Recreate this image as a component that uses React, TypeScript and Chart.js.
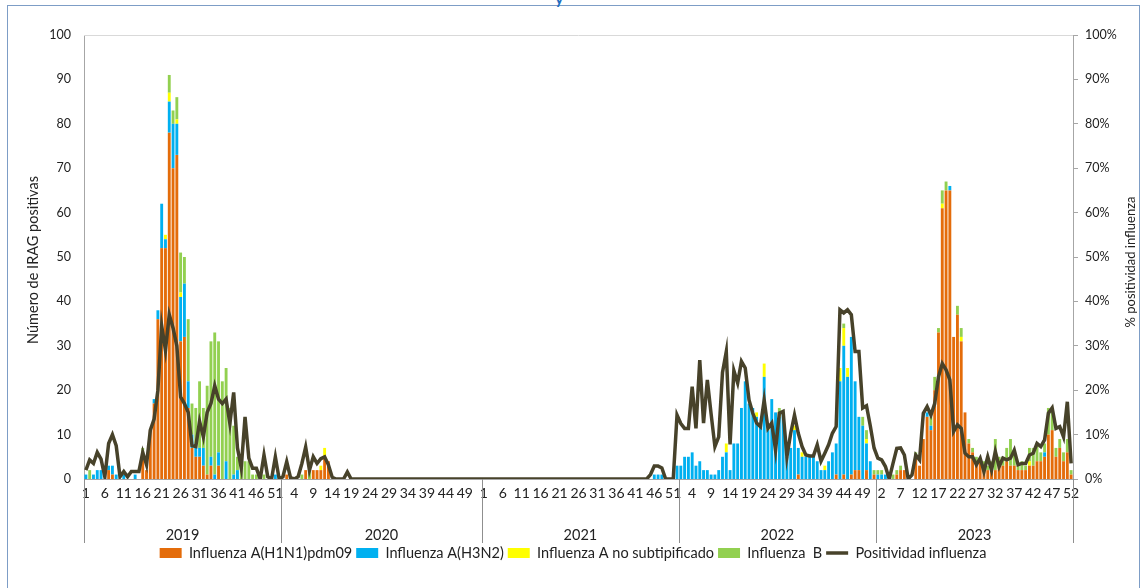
import { useEffect, useRef } from 'react';
import { Chart, registerables } from 'chart.js';

Chart.register(...registerables);

const FONT = "Lato, 'Open Sans', sans-serif";

const YEARS = ['2019', '2020', '2021', '2022', '2023'];
const WEEKS_PER_YEAR = [52, 53, 52, 52, 52];

const SERIES_NAMES = [
  'Influenza A(H1N1)pdm09',
  'Influenza A(H3N2)',
  'Influenza A no subtipificado',
  'Influenza  B',
  'Positividad influenza',
];

// Influenza A(H1N1)pdm09 per week
const H1N1_2019 = [0,0,0,0,0,0,2,1,0,0, 0,0,0,0,0,5,2,11,17,36, 52,52,78,70,73,31,32,16,7,5, 5,3,1,3,0,3,0,0,0,0, 0,0,0,0,0,0,0,0,0,0, 0,0];
const H1N1_2020 = [0,1,0,0,0,0,2,0,2,2, 2,5,4,0,0,0,0,0,0,0, 0,0,0,0,0,0,0,0,0,0, 0,0,0,0,0,0,0,0,0,0, 0,0,0,0,0,0,0,0,0,0, 0,0,0];
const H1N1_2021 = [0,0,0,0,0,0,0,0,0,0, 0,0,0,0,0,0,0,0,0,0, 0,0,0,0,0,0,0,0,0,0, 0,0,0,0,0,0,0,0,0,0, 0,0,0,0,0,0,0,0,0,0, 0,0];
const H1N1_2022 = [0,0,0,0,0,0,0,0,0,0, 0,0,0,0,0,0,0,0,0,0, 0,0,0,0,0,0,0,0,0,0, 0,1,0,0,0,0,0,0,0,0, 0,1,0,1,0,1,2,2,0,2, 0,1];
const H1N1_2023 = [0,0,0,0,0,1,2,2,0,0, 5,3,9,14,11,20,33,61,65,65, 32,37,31,15,8,6,4,4,3,2, 2,2,4,3,4,3,3,2,2,2, 3,3,4,4,5,10,11,5,7,4, 6,1];

// Influenza A(H3N2)
const H3N2_2019 = [1,0,1,2,2,0,1,2,1,0, 1,0,0,1,0,0,0,0,1,2, 10,2,7,10,7,10,12,6,3,3, 2,4,0,2,1,3,0,4,0,1, 2,0,0,0,0,0,1,0,0,0, 1,0];
const H3N2_2020 = [0,0,0,0,0,0,0,0,0,0, 0,0,0,0,0,0,0,0,0,0, 0,0,0,0,0,0,0,0,0,0, 0,0,0,0,0,0,0,0,0,0, 0,0,0,0,0,0,0,0,0,0, 0,0,0];
const H3N2_2021 = [0,0,0,0,0,0,0,0,0,0, 0,0,0,0,0,0,0,0,0,0, 0,0,0,0,0,0,0,0,0,0, 0,0,0,0,0,0,0,0,0,0, 0,0,0,0,0,1,1,1,0,0, 0,3];
const H3N2_2022 = [3,5,5,6,3,4,2,2,1,1, 2,5,6,2,8,8,16,22,17,16, 14,12,23,11,18,15,14,15,5,7, 11,6,5,5,5,5,4,2,2,4, 6,7,22,29,23,31,20,12,12,6, 4,0];
const H3N2_2023 = [1,1,1,0,0,0,0,0,0,0, 0,0,0,1,1,0,0,0,0,1, 0,0,0,0,0,0,0,0,0,0, 0,0,0,0,0,0,0,0,0,0, 0,0,0,0,1,0,0,0,0,0, 0,0];

// Influenza A no subtipificado
const ANS_2019 = [0,0,0,0,0,0,0,0,0,0, 0,0,0,0,0,0,0,0,0,0, 0,1,2,0,1,1,0,0,0,0, 0,0,0,0,0,0,0,0,0,0, 0,0,0,0,0,0,0,0,0,0, 0,0];
const ANS_2020 = [0,0,0,0,0,0,0,0,0,0, 1,2,0,0,0,0,0,0,0,0, 0,0,0,0,0,0,0,0,0,0, 0,0,0,0,0,0,0,0,0,0, 0,0,0,0,0,0,0,0,0,0, 0,0,0];
const ANS_2021 = [0,0,0,0,0,0,0,0,0,0, 0,0,0,0,0,0,0,0,0,0, 0,0,0,0,0,0,0,0,0,0, 0,0,0,0,0,0,0,0,0,0, 0,0,0,0,0,0,0,0,0,0, 0,0];
const ANS_2022 = [0,0,0,0,0,0,0,0,0,0, 0,0,2,0,0,0,0,0,0,0, 1,0,3,1,0,0,1,0,0,0, 1,0,1,0,0,0,0,0,1,0, 0,0,3,4,2,0,0,0,0,1, 0,0];
const ANS_2023 = [0,0,0,0,0,0,0,0,0,0, 0,0,0,0,0,0,0,1,0,0, 0,0,1,0,0,0,0,0,0,0, 0,0,0,0,0,0,0,0,0,0, 1,0,0,0,0,0,0,0,0,0, 0,0];

// Influenza B
const FLUB_2019 = [0,2,0,0,0,0,0,0,0,0, 0,0,0,0,0,2,0,0,0,0, 0,0,4,3,5,9,6,14,7,8, 15,9,20,26,32,25,22,21,16,11, 3,3,4,4,1,1,0,1,0,0, 0,0];
const FLUB_2020 = [0,0,0,0,0,1,0,2,0,0, 0,0,0,0,0,0,0,0,0,0, 0,0,0,0,0,0,0,0,0,0, 0,0,0,0,0,0,0,0,0,0, 0,0,0,0,0,0,0,0,0,0, 0,0,0];
const FLUB_2021 = [0,0,0,0,0,0,0,0,0,0, 0,0,0,0,0,0,0,0,0,0, 0,0,0,0,0,0,0,0,0,0, 0,0,0,0,0,0,0,0,0,0, 0,0,0,0,0,0,0,0,0,0, 0,0];
const FLUB_2022 = [0,0,0,0,0,0,0,0,0,0, 0,0,0,0,0,0,0,0,0,0, 0,0,0,0,0,0,1,0,0,0, 0,0,0,0,0,0,0,0,0,0, 0,0,0,1,0,0,0,0,2,2, 0,1];
const FLUB_2023 = [1,1,0,0,1,1,1,0,0,0, 1,0,0,0,2,3,1,3,2,0, 0,2,2,0,1,1,1,0,1,1, 2,7,1,2,3,6,3,1,2,1, 3,4,4,2,2,6,5,2,2,2, 3,1];

// Positividad influenza (%)
const POS_2019 = [2,4.3,3.5,6,4.5,0.5,8,10,7.5,0.5, 1.7,0.5,1.7,1.7,1.7,6,3.2,11,13.5,20, 34.5,29,37,34,30,18.5,17,15,7.5,7.3, 13,9.5,15,17,21,18,17,18,12.5,19.5, 7,2.5,14,4.7,2.4,2.4,0,5.4,0.5,0, 5,0];
const POS_2020 = [0.5,3.9,0.3,0,0.5,3.5,7.2,2,5,3.5, 4.6,5,3.2,0.4,0,0,0,1.6,0,0, 0,0,0,0,0,0,0,0,0,0, 0,0,0,0,0,0,0,0,0,0, 0,0,0,0,0,0,0,0,0,0, 0,0,0];
const POS_2021 = [0,0,0,0,0,0,0,0,0,0, 0,0,0,0,0,0,0,0,0,0, 0,0,0,0,0,0,0,0,0,0, 0,0,0,0,0,0,0,0,0,0, 0,0,0,0,1,2.9,2.9,2.5,0,0, 0,14.4];
const POS_2022 = [12.5,11.4,11.4,20.8,11.4,26.8,12.6,22.3,14.6,7.3, 9.5,24,28.7,7.8,24.4,21.6,26.5,25,17.8,14.8, 12.6,11.8,17.8,11.4,12.6,6.5,14.8,15.2,5,10.3, 14.4,10.3,7.3,5.4,5.2,5.2,7.7,4,5.8,7.7, 10.3,11.8,38.1,37.4,38.1,37,28.7,28.7,16,16.5, 12,7];
const POS_2023 = [4.7,4.3,2.8,0,3.5,6.9,7,5.4,0,0.9, 5.4,4.3,14.8,16.3,14.4,17,23,26,24.6,22.3, 10.7,12.2,11.4,5.8,5,5,3.2,4.7,1.7,5, 2,6.2,2.8,4.7,4.3,4.7,6.5,3.2,3.5,3.5, 5.4,5.8,8,7.3,8.8,14.8,16,11.4,11.8,9.5, 17.4,3.5];

const H1N1 = [...H1N1_2019, ...H1N1_2020, ...H1N1_2021, ...H1N1_2022, ...H1N1_2023];
const H3N2 = [...H3N2_2019, ...H3N2_2020, ...H3N2_2021, ...H3N2_2022, ...H3N2_2023];
const ANS = [...ANS_2019, ...ANS_2020, ...ANS_2021, ...ANS_2022, ...ANS_2023];
const FLUB = [...FLUB_2019, ...FLUB_2020, ...FLUB_2021, ...FLUB_2022, ...FLUB_2023];
const POS = [...POS_2019, ...POS_2020, ...POS_2021, ...POS_2022, ...POS_2023];

// category labels: week numbers for each year
const CATEGORIES: string[] = [];
YEARS.forEach((_, yi) => {
  for (let w = 1; w <= WEEKS_PER_YEAR[yi]; w++) CATEGORIES.push(String(w));
});

const LABEL_EVERY = 5;
const AXIS_TICKS = [0, 10, 20, 30, 40, 50, 60, 70, 80, 90, 100];

const COLORS = ['#E46C0A', '#00B0F0', '#FFFF00', '#92D050', '#47422A'];

const decoPlugin = {
  id: 'deco',
  afterDraw(chart: any) {
    const { ctx, chartArea } = chart;
    const { left, right, top, bottom } = chartArea;
    const xs = chart.scales.x;
    const n = CATEGORIES.length;
    ctx.save();
    // plot area top border
    ctx.strokeStyle = '#d9d9d9';
    ctx.lineWidth = 1;
    ctx.beginPath();
    ctx.moveTo(left, Math.round(top) + 0.5);
    ctx.lineTo(right, Math.round(top) + 0.5);
    ctx.stroke();

    const edge = (i: number) => {
      if (i <= 0) return left;
      if (i >= n) return right;
      return (xs.getPixelForValue(i - 1) + xs.getPixelForValue(i)) / 2;
    };
    // year separators + year labels
    ctx.strokeStyle = '#8f8f8f';
    ctx.fillStyle = '#222';
    ctx.font = `14.5px ${FONT}`;
    ctx.textAlign = 'center';
    ctx.textBaseline = 'middle';
    let start = 0;
    const bounds: number[] = [0];
    WEEKS_PER_YEAR.forEach((w) => { start += w; bounds.push(start); });
    bounds.forEach((b) => {
      const px = Math.round(edge(b)) + 0.5;
      ctx.beginPath();
      ctx.moveTo(px, bottom);
      ctx.lineTo(px, bottom + 64);
      ctx.stroke();
    });
    YEARS.forEach((y, yi) => {
      const cx = (edge(bounds[yi]) + edge(bounds[yi + 1])) / 2;
      ctx.fillText(y, cx, bottom + 56);
    });

    // axis titles
    const midY = (top + bottom) / 2;
    ctx.save();
    ctx.font = `14.5px ${FONT}`;
    ctx.translate(33, midY + 3);
    ctx.rotate(-Math.PI / 2);
    ctx.fillText('Número de IRAG positivas', 0, 0);
    ctx.restore();
    ctx.save();
    ctx.font = `13px ${FONT}`;
    ctx.translate(1131, midY + 5);
    ctx.rotate(-Math.PI / 2);
    ctx.fillText('% positividad influenza', 0, 0);
    ctx.restore();
    ctx.restore();
  },
};

export default function App() {
  const ref = useRef<HTMLCanvasElement | null>(null);

  useEffect(() => {
    if (!ref.current) return;
    const barBase = {
      type: 'bar' as const,
      stack: 'flu',
      yAxisID: 'y',
      categoryPercentage: 1,
      barPercentage: 0.76,
      borderWidth: 0,
      pointStyle: 'rect',
      order: 0,
    };
    const chart = new Chart(ref.current, {
      type: 'bar',
      data: {
        labels: CATEGORIES,
        datasets: [
          { ...barBase, label: SERIES_NAMES[0], data: H1N1, backgroundColor: COLORS[0] },
          { ...barBase, label: SERIES_NAMES[1], data: H3N2, backgroundColor: COLORS[1] },
          { ...barBase, label: SERIES_NAMES[2], data: ANS, backgroundColor: COLORS[2] },
          { ...barBase, label: SERIES_NAMES[3], data: FLUB, backgroundColor: COLORS[3] },
          {
            type: 'line' as const,
            label: SERIES_NAMES[4],
            data: POS,
            yAxisID: 'y1',
            borderColor: COLORS[4],
            backgroundColor: COLORS[4],
            borderWidth: 3.5,
            pointRadius: 0,
            pointStyle: 'line',
            tension: 0,
            order: -1,
          } as any,
        ],
      },
      options: {
        animation: false,
        responsive: false,
        maintainAspectRatio: false,
        layout: { padding: { top: 35, bottom: 17.75, left: 0, right: 0 } },
        plugins: {
          legend: {
            position: 'bottom',
            labels: {
              usePointStyle: true,
              pointStyleWidth: 22,
              boxHeight: 10,
              padding: 4,
              color: '#222',
              font: { family: FONT, size: 14.5 },
              sort: (a: any, b: any) => a.datasetIndex - b.datasetIndex,
            },
          },
          tooltip: { enabled: false },
        },
        scales: {
          x: {
            type: 'category',
            stacked: true,
            offset: true,
            grid: { display: false, drawTicks: false },
            border: { display: true, color: '#a6a6a6' },
            ticks: {
              autoSkip: false,
              maxRotation: 0,
              minRotation: 0,
              padding: 6.5,
              color: '#222',
              font: { family: FONT, size: 14 },
              callback: (_v: any, i: number) => (i % LABEL_EVERY === 0 ? CATEGORIES[i] : ''),
            },
            afterFit: (s: any) => { s.height = 62.75; },
          },
          y: {
            type: 'linear',
            position: 'left',
            stacked: true,
            min: 0,
            max: 100,
            grid: { display: false, drawTicks: false },
            border: { display: true, color: '#a6a6a6' },
            afterBuildTicks: (s: any) => { s.ticks = AXIS_TICKS.map((v) => ({ value: v })); },
            ticks: {
              padding: 13,
              color: '#222',
              font: { family: FONT, size: 12.5 },
            },
            afterFit: (s: any) => { s.width = 84; },
          },
          y1: {
            type: 'linear',
            position: 'right',
            min: 0,
            max: 100,
            grid: { drawOnChartArea: false, drawTicks: true, tickLength: 5, color: '#a6a6a6' },
            border: { display: true, color: '#a6a6a6' },
            afterBuildTicks: (s: any) => { s.ticks = AXIS_TICKS.map((v) => ({ value: v })); },
            ticks: {
              padding: 7,
              color: '#222',
              font: { family: FONT, size: 12.5 },
              callback: (v: any) => `${v}%`,
            },
            afterFit: (s: any) => { s.width = 73; },
          },
        },
      },
      plugins: [decoPlugin],
    });
    return () => chart.destroy();
  }, []);

  return (
    <div style={{ position: 'fixed', left: 0, top: 0, width: 1146, height: 588, background: '#fff', overflow: 'hidden' }}>
      <div style={{ position: 'absolute', left: 7, top: 5, width: 1131, height: 600, border: '1px solid #7d9dc6' }} />
      <div style={{ position: 'absolute', left: 555, top: -12, color: '#1f6fc0', font: `bold 16px ${FONT}` }}>y</div>
      <canvas ref={ref} width={1146} height={588} style={{ position: 'absolute', left: 0, top: 0, width: 1146, height: 588 }} />
    </div>
  );
}
